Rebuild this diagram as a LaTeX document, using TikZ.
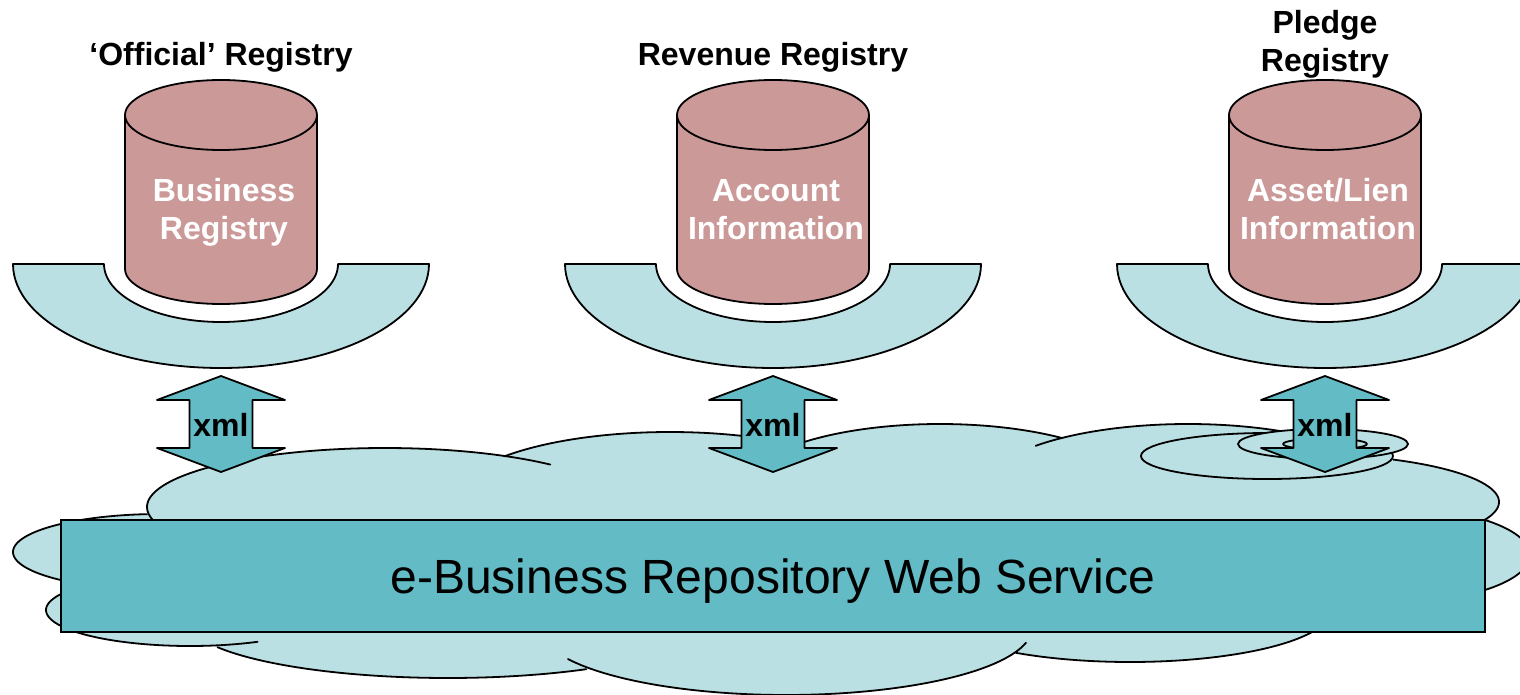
\documentclass[tikz,border=0pt]{standalone}
\usepackage{fontspec}
\setmainfont{Liberation Sans}
\definecolor{cloudfill}{HTML}{BBE0E3}
\definecolor{deepteal}{HTML}{62BBC5}
\definecolor{rosefill}{HTML}{CC9999}
\newcommand{\lobefill}[4]{\fill[cloudfill] (#1,#2) ellipse [x radius=#3pt,y radius=#4pt];}
\newcommand{\lobeedge}[6]{\draw[edge] plot[domain=#5:#6,samples=70,smooth] ({#1+#3*cos(\x)},{#2+#4*sin(\x)});}
\tikzset{
  edge/.style={draw=black,line width=1.8pt,line cap=round,line join=round},
  boldlabel/.style={font=\fontsize{32}{38}\selectfont\bfseries,align=center,text=black,inner sep=0pt},
  cylabel/.style={boldlabel,text=white},
}
\begin{document}
\begin{tikzpicture}[x=1pt,y=-1pt]
\useasboundingbox (0,0) rectangle (1520,695);
\clip (0,0) rectangle (1520,695);
% cloud body
\fill[cloudfill] (150,520) -- (400,470) -- (1400,470) -- (1490,520) -- (1480,620) -- (1000,640) -- (600,650) -- (100,625) -- cycle;
\lobefill{385}{507}{238}{59}
\lobefill{670}{500}{216}{68}
\lobefill{940}{490}{198}{66}
\lobefill{1188}{490}{205}{66}
\lobefill{1300}{502}{199}{48}
\lobefill{1380}{555}{150}{49}
\lobefill{160}{552}{147}{38}
\lobefill{190}{610}{144}{36}
\lobefill{448}{620}{261}{58}
\lobefill{786}{628}{246}{67}
\lobefill{1130}{610}{201}{52}
\lobeedge{385}{507}{238}{59}{167}{314}
\lobeedge{670}{500}{216}{68}{220}{292}
\lobeedge{940}{490}{198}{66}{225}{308}
\lobeedge{1188}{490}{205}{66}{222}{303}
\lobeedge{1300}{502}{199}{48}{298}{382}
\lobeedge{1380}{555}{150}{49}{-45}{45}
\lobeedge{160}{552}{147}{38}{130}{265}
\lobeedge{190}{610}{144}{36}{62}{210}
\lobeedge{448}{620}{261}{58}{58}{152}
\lobeedge{786}{628}{246}{67}{12.7}{152.4}
\lobeedge{1130}{610}{201}{52}{20}{124.6}
% thought-bubble rings
\draw[edge,fill=cloudfill] (1267,456) ellipse [x radius=126pt,y radius=23pt];
\draw[edge,fill=cloudfill] (1323,444) ellipse [x radius=85pt,y radius=15pt];
\draw[edge,fill=cloudfill] (1325,444) ellipse [x radius=42pt,y radius=5.5pt];
% repository bar
\node[draw=black,line width=2.2pt,fill=deepteal,minimum width=1424pt,minimum height=112pt,inner sep=0pt] (repo) at (773,576) {};
\node[font=\fontsize{48}{56}\selectfont,text=black,inner sep=0pt] (repolabel) at (773,581) {e-Business Repository Web Service};
% columns
\foreach \cx/\nm/\txt/\ty/\head/\hy in {
  221/a/{Business\\Registry}/212/{‘Official’ Registry}/57,
  773/b/{Account\\Information}/210/{Revenue Registry}/57,
  1325/c/{Asset/Lien\\Information}/209/{Pledge\\Registry}/44}{
  \begin{scope}[shift={(\cx,0)}]
    % crescent
    \draw[edge,fill=cloudfill] (-208,264) -- (-117,264)
      arc[start angle=180,end angle=360,x radius=117pt,y radius=58pt]
      -- (208,264)
      arc[start angle=0,end angle=-180,x radius=208pt,y radius=104pt] -- cycle;
    % cylinder
    \draw[edge,fill=rosefill] (-96,115) -- (-96,269)
      arc[start angle=180,end angle=360,x radius=96pt,y radius=35pt]
      -- (96,115)
      arc[start angle=0,end angle=180,x radius=96pt,y radius=35pt] -- cycle;
    \draw[edge] (-96,115) arc[start angle=180,end angle=360,x radius=96pt,y radius=35pt];
    \node[cylabel] (cyl\nm) at (3,\ty) {\txt};
    \node[boldlabel] (head\nm) at (0,\hy) {\head};
    % double arrow
    \draw[edge,fill=deepteal] (0,376) -- (64,400) -- (31.5,400) -- (31.5,448) -- (64,448)
      -- (0,472) -- (-64,448) -- (-31.5,448) -- (-31.5,400) -- (-64,400) -- cycle;
    \node[boldlabel] (xml\nm) at (0,425) {xml};
  \end{scope}
}
\end{tikzpicture}
\end{document}
